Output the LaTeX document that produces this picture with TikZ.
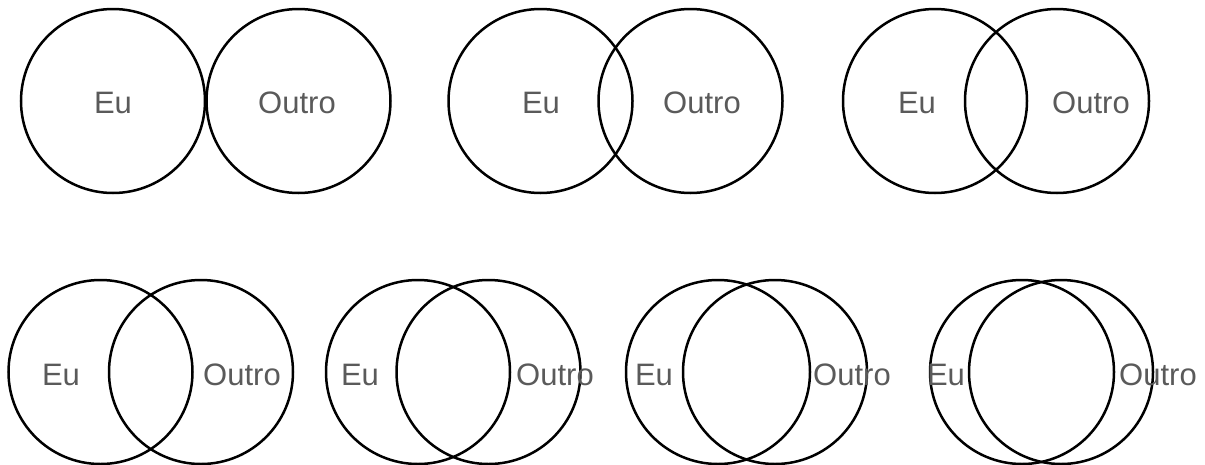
\documentclass[tikz,border=0pt]{standalone}
\usepackage{fontspec}
\setmainfont{Liberation Sans}
\usepackage{tikz}
\definecolor{labelgray}{HTML}{5A5A5A}
\tikzstyle{venn}=[draw, shape=circle, minimum size=184pt, inner sep=0pt, line width=2.5pt]
\tikzstyle{lbl}=[text=labelgray, font=\fontsize{31}{31}\selectfont, inner sep=0pt]

\begin{document}
\begin{tikzpicture}[x=1pt, y=1pt]
\useasboundingbox (0,0) rectangle (1205,-464);
% top row
\node[venn] at (113,-101) (EuA) {};
\node[venn] at (298.5,-101) (OutroA) {};
\node[venn] at (540.5,-101) (EuB) {};
\node[venn] at (690.5,-101) (OutroB) {};
\node[venn] at (935,-101) (EuC) {};
\node[venn] at (1057,-101) (OutroC) {};
\node[lbl] at (113,-103) (tEuA) {Eu};
\node[lbl] at (297,-103) (tOutroA) {Outro};
\node[lbl] at (541,-103) (tEuB) {Eu};
\node[lbl] at (702,-103) (tOutroB) {Outro};
\node[lbl] at (917,-103) (tEuC) {Eu};
\node[lbl] at (1091,-103) (tOutroC) {Outro};
% bottom row
\node[venn] at (100.5,-372) (EuD) {};
\node[venn] at (201,-372) (OutroD) {};
\node[venn] at (418,-372) (EuE) {};
\node[venn] at (488.5,-372) (OutroE) {};
\node[venn] at (718,-372) (EuF) {};
\node[venn] at (775,-372) (OutroF) {};
\node[venn] at (1022,-372) (EuG) {};
\node[venn] at (1061,-372) (OutroG) {};
\node[lbl] at (61,-375) (tEuD) {Eu};
\node[lbl] at (242,-375) (tOutroD) {Outro};
\node[lbl] at (360,-375) (tEuE) {Eu};
\node[lbl] at (555,-375) (tOutroE) {Outro};
\node[lbl] at (654,-375) (tEuF) {Eu};
\node[lbl] at (852,-375) (tOutroF) {Outro};
\node[lbl] at (946,-375) (tEuG) {Eu};
\node[lbl] at (1158,-375) (tOutroG) {Outro};
\end{tikzpicture}
\end{document}
